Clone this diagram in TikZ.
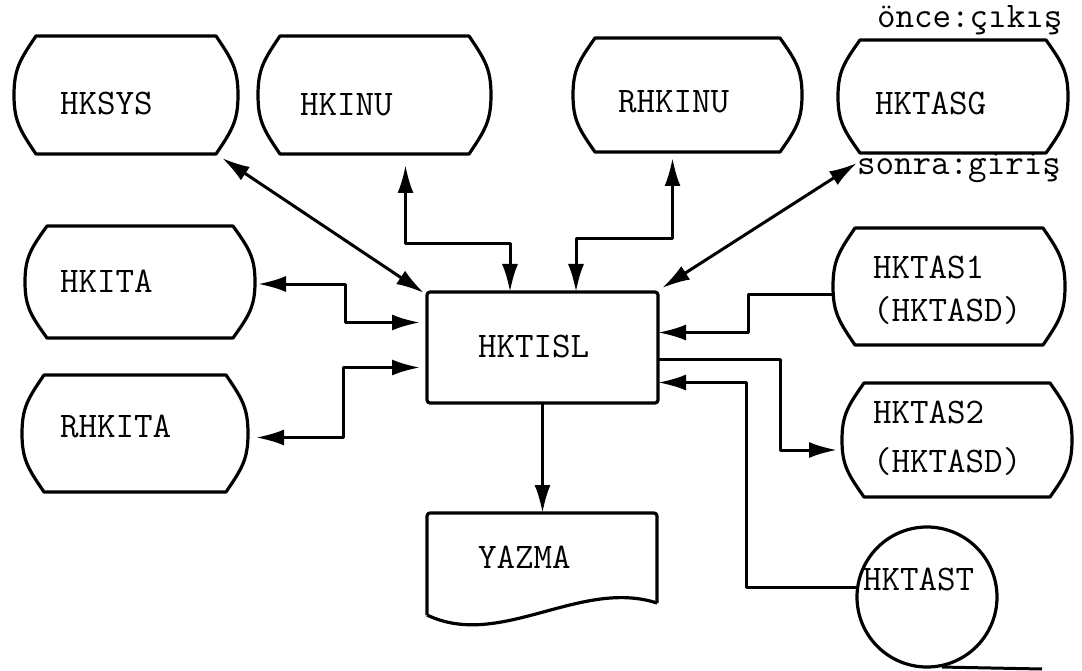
\documentclass[tikz,border=0pt]{standalone}
\usepackage{fontspec}
\usetikzlibrary{arrows.meta,calc}
\tikzset{
  box/.style={draw=none,rectangle,inner sep=0pt,outer sep=0pt},
  shapeline/.style={draw=black,line width=3.2pt,line join=round},
  lbl/.style={inner sep=0pt,outer sep=0pt,anchor=base west},
  con/.style={line width=3pt,line join=round,-{Latex[length=28pt,width=16pt]}},
  bicon/.style={line width=3pt,line join=round,{Latex[length=28pt,width=16pt]}-{Latex[length=28pt,width=16pt]}},
  plain/.style={line width=3pt,line join=round}
}
% terminal shape: name, x0, y0, x1, y1
\newcommand\termnode[5]{%
  \node[box,minimum width={#4-#2},minimum height={#5-#3}] (#1) at ({(#2+#4)/2},{(#3+#5)/2}) {};
  \draw[shapeline] ({#2+22},#3) -- ({#4-22},#3)
    .. controls ({#4-6},{#3+0.2*(#5-#3)}) and (#4,{(#3+#5)/2-0.22*(#5-#3)}) .. (#4,{(#3+#5)/2})
    .. controls (#4,{(#3+#5)/2+0.22*(#5-#3)}) and ({#4-6},{#5-0.2*(#5-#3)}) .. ({#4-22},#5)
    -- ({#2+22},#5)
    .. controls ({#2+6},{#5-0.2*(#5-#3)}) and (#2,{(#3+#5)/2+0.22*(#5-#3)}) .. (#2,{(#3+#5)/2})
    .. controls (#2,{(#3+#5)/2-0.22*(#5-#3)}) and ({#2+6},{#3+0.2*(#5-#3)}) .. ({#2+22},#3)
    -- cycle;
}
\begin{document}
\begin{tikzpicture}[x=1pt,y=-1pt,font=\ttfamily\fontsize{36}{43}\selectfont]
\useasboundingbox (0,0) rectangle (1082,671);

% terminal shapes
\termnode{hksys}{14}{36}{238}{154}
\termnode{hkinu}{258}{36}{491}{154}
\termnode{rhkinu}{573}{38}{802}{152}
\termnode{hktasg}{838}{40}{1068}{153}
\termnode{hkita}{25}{226}{255}{338}
\termnode{rhkita}{22}{375}{248}{492}
\termnode{hktasa}{833}{228}{1065}{345}
\termnode{hktasb}{842}{383}{1072}{497}

% central process box
\node[box,minimum width=231,minimum height=111] (hktisl) at (542.5,347.5) {};
\draw[shapeline,rounded corners=3pt] (hktisl.north west) rectangle (hktisl.south east);

% document shape
\node[box,minimum width=230,minimum height=102] (yazma) at (542,564) {};
\draw[shapeline,rounded corners=3pt] (427,615) -- (427,513) -- (657,513) -- (657,603);
\draw[shapeline] (657,603) .. controls (580,578) and (500,650) .. (427,615);

% tape
\node[circle,shapeline,minimum size=140,inner sep=0pt] (hktast) at (927,597) {};
\coordinate (tapeend) at (1042,669);
\draw[plain] (hktast.-78) -- (tapeend);

% labels
\node[lbl] (t-hksys) at (60,115) {HKSYS};
\node[lbl] (t-hkinu) at (300,116) {HKINU};
\node[lbl] (t-rhkinu) at (618,113) {RHKINU};
\node[lbl] (t-hktasg) at (875,115) {HKTASG};
\node[lbl] (t-hkita) at (60,292) {HKITA};
\node[lbl] (t-rhkita) at (60,437) {RHKITA};
\node[lbl] (t-hktisl) at (478,357) {HKTISL};
\node[lbl] (t-hktas1) at (873,278) {HKTAS1};
\node[lbl] (t-hktas1b) at (873,321) {(HKTASD)};
\node[lbl] (t-hktas2) at (873,423) {HKTAS2};
\node[lbl] (t-hktas2b) at (873,472) {(HKTASD)};
\node[lbl] (t-yazma) at (478,568) {YAZMA};
\node[lbl] (t-hktast) at (863,590) {HKTAST};
\node[lbl] (t-once) at (877,28) {önce:çıkış};
\node[lbl] (t-sonra) at (857,175) {sonra:giriş};

% connectors
\draw[bicon] ($(hksys.south east)+(-16,4)$) -- ($(hktisl.north west)+(-3,1)$);
\draw[bicon] ($(hkinu.south)+(31,11)$) -- ++(0,79) -| ($(hktisl.north west)+(83,0)$);
\draw[bicon] ($(rhkinu.south)+(-15,6)$) -- ++(0,81) -| ($(hktisl.north west)+(149,0)$);
\draw[bicon] ($(hktasg.south west)+(19,10)$) -- ($(hktisl.north east)+(4,-4)$);
\draw[bicon] ($(hkita.east)+(3,2)$) -- ++(87,0) |- ($(hktisl.west)+(-7,-25)$);
\draw[bicon] ($(rhkita.east)+(8,4)$) -- ++(87,0) |- ($(hktisl.west)+(-7,20)$);
\draw[con] ($(hktasa.west)+(0,8)$) -- ++(-85,0) |- ($(hktisl.east)+(0,-15)$);
\draw[con] ($(hktisl.east)+(0,12)$) -- ++(122,0) |- ($(hktasb.west)+(-5,10)$);
\draw[con] (hktast.172) -- ++(-110,0) |- ($(hktisl.east)+(0,35)$);
\draw[con] (hktisl.south) -- (hktisl.south |- yazma.north);
\end{tikzpicture}
\end{document}
